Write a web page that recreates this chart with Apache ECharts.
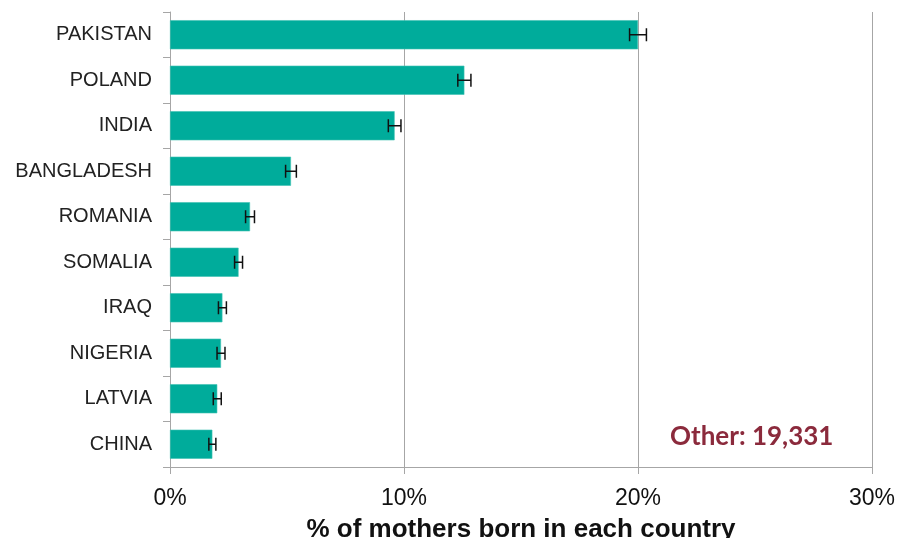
<!DOCTYPE html>
<html>
<head>
<meta charset="utf-8">
<script src="https://cdn.jsdelivr.net/npm/echarts@6/dist/echarts.min.js"></script>
<style>html,body{margin:0;padding:0;background:#fff}#c{width:900px;height:538px}</style>
</head>
<body>
<div id="c"></div>
<script>
var countries = ['PAKISTAN','POLAND','INDIA','BANGLADESH','ROMANIA','SOMALIA','IRAQ','NIGERIA','LATVIA','CHINA'];
var percentValues = [20.0, 12.58, 9.6, 5.17, 3.42, 2.93, 2.24, 2.18, 2.02, 1.81];
var errorMargins = [0.36, 0.28, 0.27, 0.23, 0.19, 0.17, 0.17, 0.17, 0.17, 0.15];
var xTicks = [0, 10, 20, 30];
var axisTitle = '% of mothers born in each country';
var otherNote = 'Other: 19,331';

var errData = countries.map(function(c, i){ return [percentValues[i] - errorMargins[i], percentValues[i] + errorMargins[i], i]; });

var chart = echarts.init(document.getElementById('c'), null, {renderer:'canvas'});
chart.setOption({
  animation: false,
  grid: {left: 170, right: 28, top: 12, bottom: 71, containLabel: false, outerBoundsMode: 'none'},
  xAxis: {
    type: 'value', min: xTicks[0], max: xTicks[xTicks.length-1], interval: 10,
    axisLine: {show: true, lineStyle: {color: '#a6a6a6', width: 1}},
    axisTick: {show: true, length: 7, lineStyle: {color: '#a6a6a6'}},
    splitLine: {show: true, lineStyle: {color: '#a6a6a6', width: 1}},
    axisLabel: {formatter: '{value}%', fontFamily: 'Liberation Sans', fontSize: 23, color: '#111', margin: 20},
    name: axisTitle, nameLocation: 'middle', nameGap: 50,
    nameTextStyle: {fontFamily: 'Liberation Sans', fontWeight: 'bold', fontSize: 26, color: '#111'}
  },
  yAxis: {
    type: 'category', data: countries, inverse: true,
    axisLine: {show: true, lineStyle: {color: '#a6a6a6', width: 1}},
    axisTick: {show: true, length: 7, lineStyle: {color: '#a6a6a6'}},
    axisLabel: {fontFamily: 'Liberation Sans', fontSize: 20, color: '#222', margin: 18}
  },
  series: [
    {
      type: 'bar', data: percentValues, barWidth: '64%',
      itemStyle: {color: '#00ac9b', borderColor: '#3fc2b3', borderWidth: 0.6}
    },
    {
      type: 'custom', data: errData, z: 5,
      renderItem: function(params, api){
        var idx = api.value(2);
        var p1 = api.coord([api.value(0), idx]);
        var p2 = api.coord([api.value(1), idx]);
        var h = 6.5;
        var st = {stroke: '#111', lineWidth: 1.5};
        return {type: 'group', children: [
          {type: 'line', shape: {x1: p1[0], y1: p1[1], x2: p2[0], y2: p2[1]}, style: st},
          {type: 'line', shape: {x1: p1[0], y1: p1[1]-h, x2: p1[0], y2: p1[1]+h}, style: st},
          {type: 'line', shape: {x1: p2[0], y1: p2[1]-h, x2: p2[0], y2: p2[1]+h}, style: st}
        ]};
      },
      encode: {x: [0, 1], y: 2}
    }
  ],
  graphic: [{
    type: 'text', left: 670, top: 424,
    style: {text: otherNote, fontFamily: 'Lato', fontWeight: 'bold', fontSize: 26, fill: '#8b2a3c'}
  }]
});
</script>
</body>
</html>
